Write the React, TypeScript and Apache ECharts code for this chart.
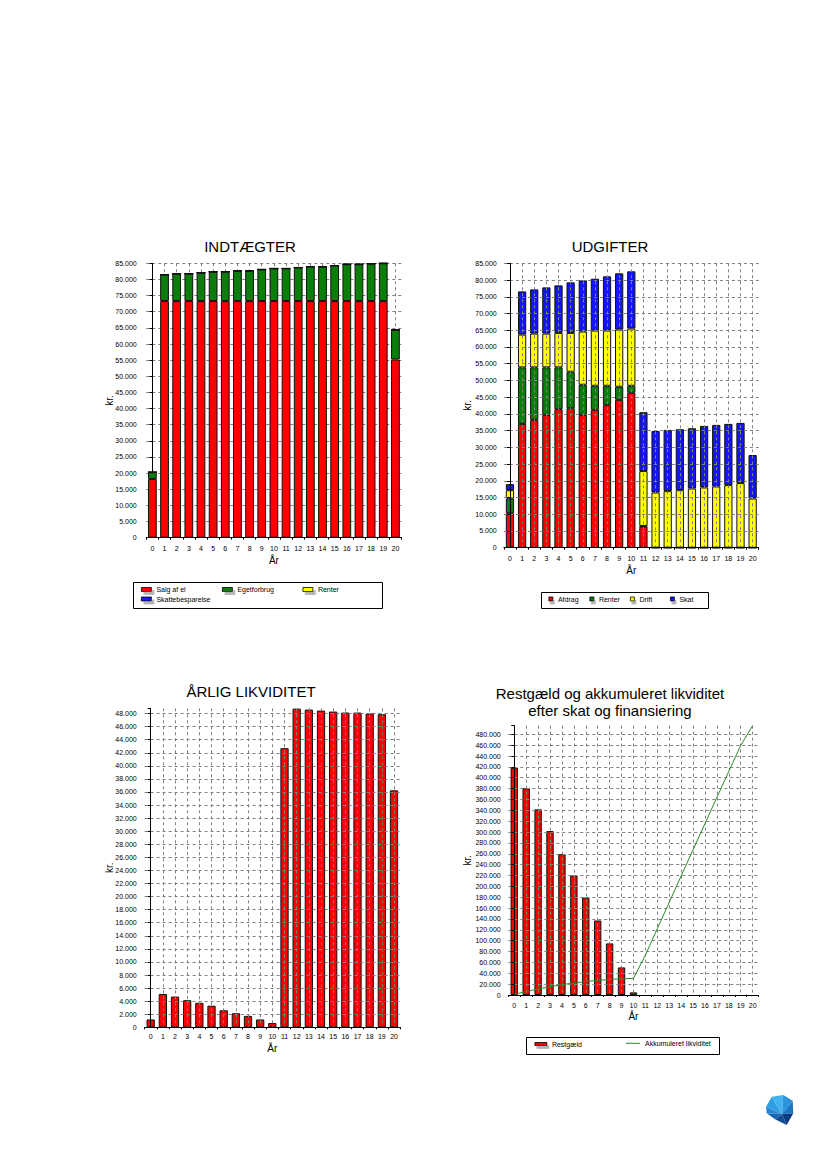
import React, { useEffect, useRef } from 'react';
import * as echarts from 'echarts';

// ---------- categories ----------
const years = ['0', '1', '2', '3', '4', '5', '6', '7', '8', '9', '10', '11', '12', '13', '14', '15', '16', '17', '18', '19', '20'];

// ---------- INDTÆGTER ----------
const salgAfEl = [18200, 73300, 73300, 73300, 73300, 73300, 73300, 73300, 73300, 73300, 73300, 73300, 73300, 73300, 73300, 73300, 73300, 73300, 73300, 73300, 55200];
const egetforbrug = [2100, 8200, 8500, 8500, 8800, 9100, 9100, 9400, 9400, 9800, 10100, 10100, 10400, 10700, 10700, 11000, 11400, 11400, 11600, 11700, 9200];
const renterIndtaegt = [0, 0, 0, 0, 0, 0, 0, 0, 0, 0, 0, 0, 0, 0, 0, 0, 0, 0, 0, 0, 0];
const skattebesparelse = [0, 0, 0, 0, 0, 0, 0, 0, 0, 0, 0, 0, 0, 0, 0, 0, 0, 0, 0, 0, 0];

// ---------- UDGIFTER ----------
const afdrag = [10300, 37000, 38200, 39700, 41400, 41700, 39700, 41200, 42700, 44200, 46300, 6300, 0, 0, 0, 0, 0, 0, 0, 0, 0];
const renterUdgift = [4400, 16900, 15700, 14200, 12500, 10900, 9000, 7200, 5700, 3900, 2100, 200, 0, 0, 0, 0, 0, 0, 0, 0, 0];
const drift = [2500, 9800, 10100, 10100, 10300, 11600, 15900, 16500, 16500, 17100, 17100, 16400, 16500, 16900, 17200, 17700, 18000, 18300, 18700, 19300, 14700];
const skat = [1800, 12900, 13200, 13800, 14200, 15100, 15300, 15500, 16200, 16800, 17100, 17600, 18400, 18300, 18200, 18000, 18400, 18400, 18300, 18000, 13000];

// ---------- ÅRLIG LIKVIDITET ----------
const aarligLikviditet = [1200, 5100, 4700, 4150, 3750, 3300, 2600, 2150, 1750, 1200, 650, 42700, 48750, 48600, 48450, 48300, 48150, 48150, 48000, 47900, 36250];

// ---------- Restgæld / akkumuleret likviditet ----------
const restgaeld = [418200, 380600, 341800, 301800, 259400, 220000, 179400, 137200, 95000, 50800, 4900, null, null, null, null, null, null, null, null, null, null];
const akkLikviditet = [1200, 6300, 11000, 15100, 18900, 22200, 24800, 26900, 28700, 29900, 30500, 73200, 122000, 170600, 219100, 267400, 315500, 363700, 411700, 459600, 495900];

const FONT = '"Liberation Sans", Arial, Helvetica, sans-serif';
const C_RED = '#ff0000';
const C_GREEN = '#0b7d0b';
const C_YELLOW = '#ffff00';
const C_BLUE = '#1414ff';
const C_LINE = '#2a8a2a';

const fmtKr = (v: number) => String(Math.round(v)).replace(/\B(?=(\d{3})+(?!\d))/g, '.');

type Frame = {
  left: number; top: number; width: number; height: number;
  yOffset: number; max: number; interval: number; gridOnTop: boolean;
  xLabelMargin: number; xNameGap: number; yNameGap: number; maxLine: boolean;
};

function axes(f: Frame) {
  const dash = { type: [3, 3], color: '#808080', width: 1 };
  const z = f.gridOnTop ? 3 : 0;
  return {
    grid: { left: f.left, top: f.top, width: f.width, height: f.height, containLabel: false, outerBoundsMode: 'none' },
    xAxis: [
      {
        type: 'category', data: years, boundaryGap: true, z: 4,
        axisLine: { show: true, lineStyle: { color: '#000', width: 1 } },
        axisTick: { show: true, interval: 0, length: 2, lineStyle: { color: '#000' } },
        axisLabel: { interval: 0, fontSize: 7, fontFamily: FONT, color: '#000', margin: f.xLabelMargin },
        splitLine: { show: false },
        name: 'År', nameLocation: 'middle', nameGap: f.xNameGap, nameMoveOverlap: false,
        nameTextStyle: { fontSize: 10, fontFamily: FONT, color: '#000' },
      },
      {
        type: 'value', min: -0.5, max: 20.5, minInterval: 1, maxInterval: 1, z,
        axisLine: { show: false }, axisTick: { show: false }, axisLabel: { show: false },
        splitLine: { show: true, showMinLine: false, showMaxLine: false, lineStyle: dash },
      },
    ],
    yAxis: {
      type: 'value', min: 0, max: f.max, interval: f.interval, offset: f.yOffset, z,
      axisLine: { show: true, lineStyle: { color: '#000', width: 1 } },
      axisTick: { show: true, length: 3, lineStyle: { color: '#000' } },
      axisLabel: {
        fontSize: 7, fontFamily: FONT, color: '#000', margin: 6,
        formatter: (v: number) => (v % f.interval === 0 ? fmtKr(v) : ''),
      },
      splitLine: { show: true, showMinLine: false, showMaxLine: f.maxLine, lineStyle: dash },
      name: 'kr.', nameLocation: 'middle', nameRotate: 90, nameGap: f.yNameGap, nameMoveOverlap: false,
      nameTextStyle: { fontSize: 10, fontFamily: FONT, color: '#000' },
    },
  };
}

function legendItem(name: string, left: number, top: number, w: number, h: number, shadow: [number, number] | null, icon = 'rect') {
  const itemStyle: any = { borderColor: '#000', borderWidth: 0.8 };
  if (shadow) {
    itemStyle.shadowColor = '#b4b4b4';
    itemStyle.shadowOffsetX = shadow[0];
    itemStyle.shadowOffsetY = shadow[1];
    itemStyle.shadowBlur = 0;
  }
  return {
    show: true, orient: 'horizontal', left, top, padding: 0, itemGap: 0,
    itemWidth: w, itemHeight: h, selectedMode: false,
    data: [{ name, icon }],
    textStyle: { fontSize: 7, fontFamily: FONT, color: '#000', lineHeight: 8 },
    itemStyle,
  };
}

function title(text: string, x: number, y: number) {
  return {
    type: 'text', x, y, z: 10,
    style: {
      text, fill: '#000', fontSize: 15, fontFamily: FONT,
      align: 'center', verticalAlign: 'middle', textAlign: 'center', textVerticalAlign: 'middle',
    },
  };
}

function box(x: number, y: number, w: number, h: number) {
  return {
    type: 'rect', z: 1,
    shape: { x, y, width: w, height: h },
    style: { fill: 'transparent', stroke: '#000', lineWidth: 1 },
  };
}

const barStyle = (color: string) => ({ color, borderColor: '#111', borderWidth: 1 });

function optIndtaegter() {
  const f: Frame = { left: 146.3, top: 263.3, width: 255.2, height: 274.4, yOffset: 3.6, max: 85000, interval: 5000, gridOnTop: false, xLabelMargin: 7, xNameGap: 17.5, yNameGap: 28.5, maxLine: true };
  return {
    animation: false,
    textStyle: { fontFamily: FONT },
    ...axes(f),
    legend: [
      legendItem('Salg af el', 141, 585.5, 10, 4, [2.5, 3]),
      legendItem('Egetforbrug', 222, 585.5, 10, 4, [2.5, 3]),
      legendItem('Renter', 302.5, 585.5, 10, 4, [2.5, 3]),
      legendItem('Skattebesparelse', 141, 595, 10, 4, [2.5, 3]),
    ],
    graphic: [title('INDTÆGTER', 250, 246), box(133.5, 582.5, 249, 26)],
    series: [
      { name: 'Salg af el', type: 'bar', stack: 'i', barWidth: '72%', data: salgAfEl, itemStyle: barStyle(C_RED) },
      { name: 'Egetforbrug', type: 'bar', stack: 'i', data: egetforbrug, itemStyle: barStyle(C_GREEN) },
      { name: 'Renter', type: 'bar', stack: 'i', data: renterIndtaegt, itemStyle: barStyle(C_YELLOW) },
      { name: 'Skattebesparelse', type: 'bar', stack: 'i', data: skattebesparelse, itemStyle: barStyle(C_BLUE) },
    ],
  };
}

function optUdgifter() {
  const f: Frame = { left: 503.9, top: 263.3, width: 254.8, height: 284.4, yOffset: 1.2, max: 85000, interval: 5000, gridOnTop: true, xLabelMargin: 7.5, xNameGap: 18, yNameGap: 30, maxLine: true };
  return {
    animation: false,
    textStyle: { fontFamily: FONT },
    ...axes(f),
    legend: [
      legendItem('Afdrag', 548.5, 595, 4, 4, [1.5, 3]),
      legendItem('Renter', 589.5, 595, 4, 4, [1.5, 3]),
      legendItem('Drift', 630, 595, 4, 4, [1.5, 3]),
      legendItem('Skat', 670, 595, 4, 4, [1.5, 3]),
    ],
    graphic: [title('UDGIFTER', 610, 246), box(541.5, 592.5, 167, 16)],
    series: [
      { name: 'Afdrag', type: 'bar', stack: 'u', barWidth: '68%', data: afdrag, itemStyle: barStyle(C_RED) },
      { name: 'Renter', type: 'bar', stack: 'u', data: renterUdgift, itemStyle: barStyle(C_GREEN) },
      { name: 'Drift', type: 'bar', stack: 'u', data: drift, itemStyle: barStyle(C_YELLOW) },
      { name: 'Skat', type: 'bar', stack: 'u', data: skat, itemStyle: barStyle(C_BLUE) },
    ],
  };
}

function optLikviditet() {
  const f: Frame = { left: 144.6, top: 708.3, width: 255.5, height: 319, yOffset: 1.9, max: 48800, interval: 2000, gridOnTop: true, xLabelMargin: 6, xNameGap: 16, yNameGap: 28.5, maxLine: false };
  return {
    animation: false,
    textStyle: { fontFamily: FONT },
    ...axes(f),
    graphic: [title('ÅRLIG LIKVIDITET', 251, 691.5)],
    series: [
      { name: 'Årlig likviditet', type: 'bar', barWidth: '68%', data: aarligLikviditet, itemStyle: barStyle(C_RED) },
    ],
  };
}

function optRestgaeld() {
  const f: Frame = { left: 508.3, top: 725.6, width: 250.3, height: 269.4, yOffset: 1.6, max: 496000, interval: 20000, gridOnTop: true, xLabelMargin: 7, xNameGap: 16.5, yNameGap: 34, maxLine: false };
  const lineLegend: any = legendItem('Akkumuleret likviditet', 626, 1039.3, 14, 1, null);
  lineLegend.itemStyle = { color: C_LINE, borderWidth: 0 };
  return {
    animation: false,
    textStyle: { fontFamily: FONT },
    ...axes(f),
    legend: [
      legendItem('Restgæld', 534.5, 1040, 12, 3, [2, 3]),
      lineLegend,
    ],
    graphic: [
      title('Restgæld og akkumuleret likviditet', 610, 693),
      title('efter skat og finansiering', 610, 710),
      box(526.5, 1037.5, 193, 17),
      // logo (faceted blue gem)
      { type: 'polygon', z: 10, shape: { points: [[782, 1114], [766, 1106.7], [771.7, 1096.7]] }, style: { fill: '#2f9fe4' } },
      { type: 'polygon', z: 10, shape: { points: [[782, 1114], [771.7, 1096.7], [783.3, 1095]] }, style: { fill: '#44b2ee' } },
      { type: 'polygon', z: 10, shape: { points: [[782, 1114], [783.3, 1095], [792.7, 1100.7]] }, style: { fill: '#2a93dc' } },
      { type: 'polygon', z: 10, shape: { points: [[782, 1114], [792.7, 1100.7], [793.3, 1113.3]] }, style: { fill: '#1c76c6' } },
      { type: 'polygon', z: 10, shape: { points: [[782, 1114], [793.3, 1113.3], [786.7, 1125]] }, style: { fill: '#0b3c80' } },
      { type: 'polygon', z: 10, shape: { points: [[782, 1114], [786.7, 1125], [775, 1119.3]] }, style: { fill: '#114c92' } },
      { type: 'polygon', z: 10, shape: { points: [[782, 1114], [775, 1119.3], [766.7, 1113.3]] }, style: { fill: '#1867b4' } },
      { type: 'polygon', z: 10, shape: { points: [[782, 1114], [766.7, 1113.3], [766, 1106.7]] }, style: { fill: '#2485d0' } },
    ],
    series: [
      { name: 'Restgæld', type: 'bar', barWidth: '62%', data: restgaeld, itemStyle: barStyle(C_RED) },
      {
        name: 'Akkumuleret likviditet', type: 'line', data: akkLikviditet, symbol: 'none', showSymbol: false, z: 5,
        lineStyle: { color: C_LINE, width: 1 }, itemStyle: { color: C_LINE },
      },
    ],
  };
}

const layerStyle: React.CSSProperties = { position: 'absolute', left: 0, top: 0, width: 826, height: 1169 };

export default function App() {
  const r1 = useRef<HTMLDivElement>(null);
  const r2 = useRef<HTMLDivElement>(null);
  const r3 = useRef<HTMLDivElement>(null);
  const r4 = useRef<HTMLDivElement>(null);

  useEffect(() => {
    const refs = [r1, r2, r3, r4];
    const opts = [optIndtaegter(), optUdgifter(), optLikviditet(), optRestgaeld()];
    const charts = refs.map((r, i) => {
      const c = echarts.init(r.current as HTMLDivElement, undefined, { renderer: 'svg', width: 826, height: 1169 });
      c.setOption(opts[i] as any);
      return c;
    });
    return () => charts.forEach((c) => c.dispose());
  }, []);

  return (
    <div style={{ position: 'absolute', left: 0, top: 0, width: 826, height: 1169, background: '#fff' }}>
      <div ref={r1} style={layerStyle} />
      <div ref={r2} style={layerStyle} />
      <div ref={r3} style={layerStyle} />
      <div ref={r4} style={layerStyle} />
    </div>
  );
}
